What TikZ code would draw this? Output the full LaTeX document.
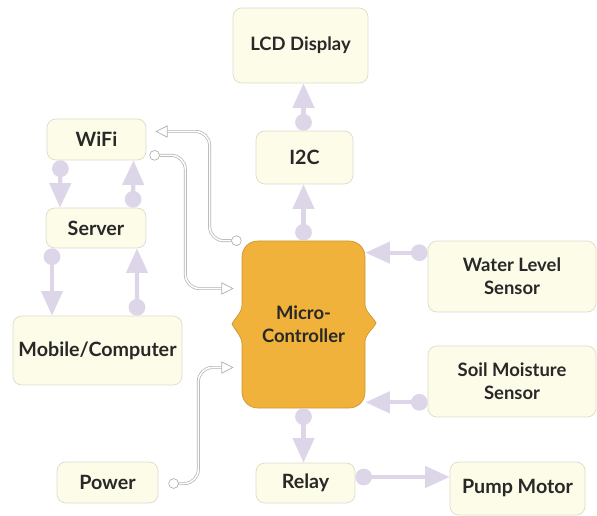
\documentclass[tikz,border=0pt]{standalone}
\usepackage{fontspec}
\setmainfont{Lato}
\usetikzlibrary{arrows.meta,calc}
\definecolor{cream}{RGB}{253,252,232}
\definecolor{edgegray}{RGB}{220,218,202}
\definecolor{gold}{RGB}{240,178,58}
\definecolor{lilac}{RGB}{221,213,232}
\definecolor{ink}{RGB}{40,40,40}

\begin{document}
\begin{tikzpicture}[x=0.02cm,y=-0.02cm,
    box/.style={rectangle,rounded corners=5pt,draw=edgegray,fill=cream,text=ink,
      font=\fontsize{11.2}{13.5}\selectfont\bfseries,align=center,inner sep=0pt},
    smallbox/.style={box,font=\fontsize{10.5}{13}\selectfont\bfseries},
    link/.style={draw=lilac,line width=2.4pt,{Circle[length=9.5pt]}-{Triangle[length=14pt,width=12pt]}},
    wire/.style={draw=black!30,double=white,double distance=0.9pt,line width=0.4pt,rounded corners=8pt,
      {Circle[open,fill=white,length=6pt]}-{Triangle[open,fill=white,length=7pt,width=7pt]}}]
  \useasboundingbox (0,0) rectangle (597,516);

  % micro-controller outline
  \filldraw[fill=gold,draw=gold!85!black,line width=0.4pt]
    (303,241) -- (349,241) .. controls (358,241) and (365,248) .. (365,257)
    -- (365,304) .. controls (365,312) and (374,318) .. (376,323)
    .. controls (374,328) and (365,334) .. (365,342)
    -- (365,392) .. controls (365,401) and (358,408) .. (349,408)
    -- (258,408) .. controls (249,408) and (242,401) .. (242,392)
    -- (242,344) .. controls (242,336) and (234,329) .. (232,324)
    .. controls (234,319) and (242,313) .. (242,305)
    -- (242,257) .. controls (242,248) and (249,241) .. (258,241) -- cycle;

  \node [smallbox,draw=none,fill=none,minimum width=2.46cm,minimum height=3.34cm] (mc) at (303.5,324.5) {Micro-\\Controller};
  \node [smallbox,minimum width=2.7cm,minimum height=1.5cm]   (lcd)    at (300.5,45.5)  {LCD Display};
  \node [box,minimum width=1.94cm,minimum height=1.06cm] (i2c)    at (304.5,157.5) {I2C};
  \node [box,minimum width=1.98cm,minimum height=0.82cm] (wifi)   at (96.5,139.5)  {WiFi};
  \node [box,minimum width=2cm,minimum height=0.8cm]     (server) at (96,228)      {Server};
  \node [box,minimum width=3.38cm,minimum height=1.38cm] (mobile) at (97.5,350.5)  {Mobile/Computer};
  \node [smallbox,minimum width=3.36cm,minimum height=1.42cm] (water)  at (512,276.5)   {Water Level\\Sensor};
  \node [smallbox,minimum width=3.36cm,minimum height=1.42cm] (soil)   at (512,381.5)   {Soil Moisture\\Sensor};
  \node [box,minimum width=1.98cm,minimum height=0.8cm]  (relay)  at (305.5,483)   {Relay};
  \node [box,minimum width=2.7cm,minimum height=1.06cm]  (pump)   at (517.5,488.5) {Pump Motor};
  \node [box,minimum width=2.02cm,minimum height=0.82cm] (power)  at (107.5,482.5) {Power};

  % thick links
  \coordinate (w) at ($(water.north west)+(0,12)$);
  \coordinate (s) at ($(soil.south west)+(0,-15)$);
  \coordinate (r) at ($(relay.east)+(0,-6)$);
  \draw[link] ($(wifi.south)+(-36,0)$) -- ($(server.north)+(-36,0)$);
  \draw[link] ($(server.north)+(37,0)$) -- ($(wifi.south)+(37,0)$);
  \draw[link] ($(server.south)+(-44,0)$) -- ($(mobile.north)+(-45.5,0)$);
  \draw[link] ($(mobile.north)+(39.5,0)$) -- ($(server.south)+(41,0)$);
  \draw[link] (mc.north) -- (mc.north |- i2c.south);
  \draw[link] (i2c.north -| mc.north) -- (mc.north |- lcd.south);
  \draw[link] (w) -- (w -| mc.east);
  \draw[link] (s) -- (s -| mc.east);
  \draw[link] (mc.south) -- (mc.south |- relay.north);
  \draw[link] (r) -- (r -| pump.west);

  % thin wires
  \draw[wire] (mc.north west) -- ++(-32,0) |- ([shift={(9,-8)}]wifi.east);
  \draw[wire] ([shift={(3,-5)}]wifi.south east) -- ++(36,0) |- ([shift={(-8,-36)}]mc.west);
  \draw[wire] ([shift={(10,1)}]power.east) -- ++(30,0) |- ([shift={(-8,43)}]mc.west);
\end{tikzpicture}
\end{document}
